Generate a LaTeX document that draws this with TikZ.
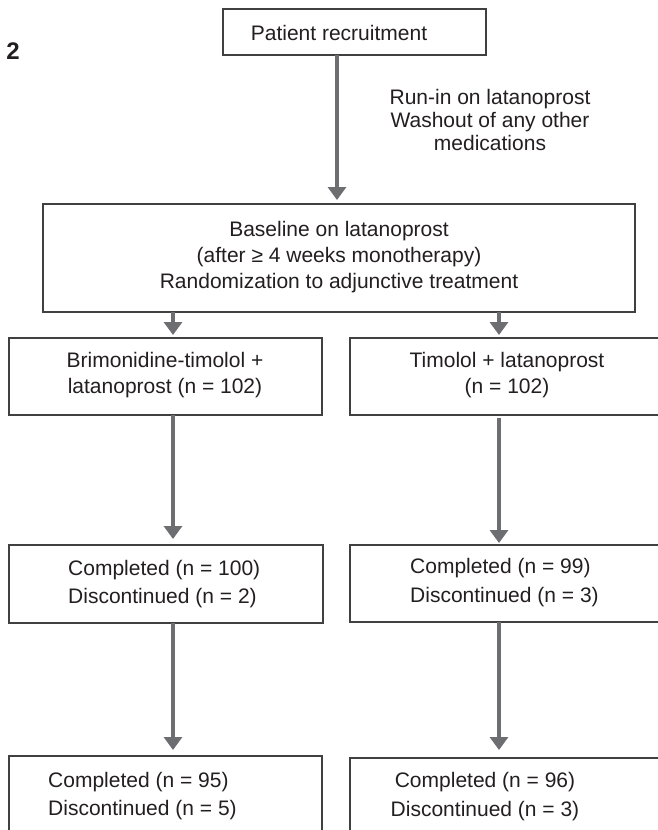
\documentclass[tikz,border=0pt]{standalone}
\usepackage{fontspec}
\setmainfont{Liberation Sans}
\usetikzlibrary{arrows.meta}
\definecolor{arrgray}{HTML}{6D6E71}
\definecolor{boxline}{HTML}{404040}
\definecolor{txtcol}{HTML}{231F20}
\begin{document}
\begin{tikzpicture}[x=1pt,y=-1pt,
  box/.style={draw=boxline,line width=1.3pt,anchor=north west,inner sep=0pt,outer sep=0pt,fill=white},
  txt/.style={font=\fontsize{21}{26}\selectfont,align=center,inner sep=0pt,text=txtcol},
  arr/.style={draw=arrgray,line width=4.5pt,-{Triangle[width=18pt,length=13pt]}}]
\useasboundingbox (0,0) rectangle (658,830);
\clip (0,0) rectangle (658,830);
\fill[white] (0,0) rectangle (658,830);

% boxes
\node[box,minimum width=263pt,minimum height=46pt] (rec) at (223,9) {};
\node[box,minimum width=592pt,minimum height=108pt] (base) at (43,204) {};
\node[box,minimum width=313pt,minimum height=77pt] (l1) at (9,338) {};
\node[box,minimum width=316pt,minimum height=77pt] (r1) at (350,338) {};
\node[box,minimum width=314pt,minimum height=78pt] (l2) at (9,545) {};
\node[box,minimum width=316pt,minimum height=77pt] (r2) at (350,545) {};
\node[box,minimum width=313pt,minimum height=100pt] (l3) at (9,756) {};
\node[box,minimum width=316pt,minimum height=100pt] (r3) at (350,758) {};

% texts
\node[font=\fontsize{24}{28}\selectfont\bfseries,text=txtcol,inner sep=0pt] (fig) at (13,51) {2};
\node[txt] (trec) at (339,33) {Patient recruitment};
\node[txt,font=\fontsize{21}{23}\selectfont] (tside) at (490,120) {Run-in on latanoprost\\ Washout of any other\\ medications};
\node[txt] (tbase) at (339,257) {Baseline on latanoprost\\(after ≥ 4 weeks monotherapy)\\Randomization to adjunctive treatment};
\node[txt] (tl1) at (165,375) {Brimonidine-timolol +\\latanoprost (n = 102)};
\node[txt] (tr1) at (507,375) {Timolol + latanoprost\\(n = 102)};
\node[txt,align=left,anchor=west,font=\fontsize{21}{28}\selectfont] (tl2) at (68,584) {Completed (n = 100)\\Discontinued (n = 2)};
\node[txt,align=left,anchor=west,font=\fontsize{21}{29}\selectfont] (tr2) at (410,583) {Completed (n = 99)\\Discontinued (n = 3)};
\node[txt,align=left,anchor=west,font=\fontsize{21}{28}\selectfont] (tl3) at (48,796) {Completed (n = 95)\\Discontinued (n = 5)};
\node[txt,font=\fontsize{21}{29}\selectfont] (tr3) at (485,797) {Completed (n = 96)\\Discontinued (n = 3)};

% arrow columns
\coordinate (xa) at (337,0);
\coordinate (xl) at (173,0);
\coordinate (xr) at (499,0);

\draw[arr,shorten >=4pt] (rec.south -| xa) -- (base.north -| xa);
\draw[arr,shorten >=3pt] (base.south -| xl) -- (l1.north -| xl);
\draw[arr,shorten >=3pt] (base.south -| xr) -- (r1.north -| xr);
\draw[arr,shorten >=6pt] (l1.south -| xl) -- (l2.north -| xl);
\draw[arr,shorten <=3pt,shorten >=2pt] (r1.south -| xr) -- (r2.north -| xr);
\draw[arr,shorten >=6pt] (l2.south -| xl) -- (l3.north -| xl);
\draw[arr,shorten >=8pt] (r2.south -| xr) -- (r3.north -| xr);
\end{tikzpicture}
\end{document}
